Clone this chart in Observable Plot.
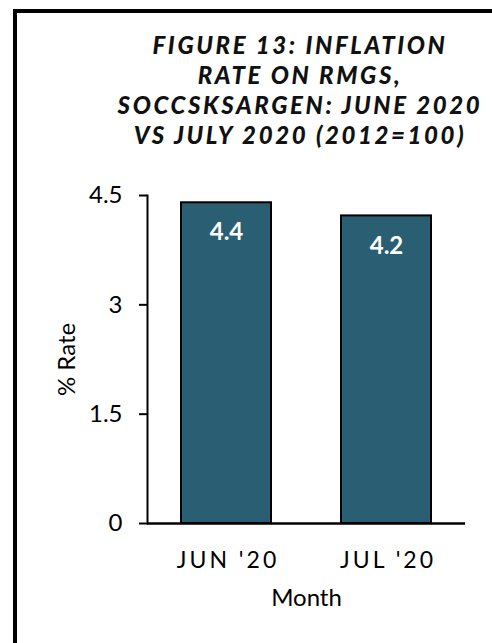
<!DOCTYPE html>
<html><head><meta charset="utf-8">
<script src="https://cdn.jsdelivr.net/npm/d3@7"></script>
<script src="https://cdn.jsdelivr.net/npm/@observablehq/plot@0.6"></script>
<style>
body{margin:0;background:#fff;}
#wrap{position:relative;width:492px;height:643px;overflow:hidden;font-family:Lato,sans-serif;background:#fff;}
#border{position:absolute;left:13px;top:9px;width:600px;height:800px;border-left:4px solid #000;border-top:4px solid #000;z-index:2;pointer-events:none;}
#title{position:absolute;left:100px;width:400px;top:30px;text-align:center;font-weight:900;font-style:italic;font-size:24px;line-height:30px;letter-spacing:2.6px;color:#111;margin:0;}
#chart{position:absolute;left:0;top:150px;}
#chart [aria-label="x-axis tick label"] text{letter-spacing:3px;}
</style></head>
<body>
<div id="wrap">
<div id="border"></div>
<div id="title">FIGURE 13: INFLATION<br>RATE ON RMGS,<br>SOCCSKSARGEN: JUNE 2020<br>VS JULY 2020 (2012=100)</div>
<div id="chart"></div>
</div>
<script>
const months = ["JUN '20", "JUL '20"];
const rates = [4.4, 4.22];
const yTicks = [0, 1.5, 3, 4.5];
const yLabel = "% Rate";
const xLabel = "Month";

const data = months.map((m, i) => ({month: m, rate: rates[i]}));

const chart = Plot.plot({
  width: 492, height: 493,
  marginLeft: 147, marginRight: 27, marginTop: 45, marginBottom: 120,
  style: {fontFamily: "Lato, sans-serif", fontSize: "24px", color: "#000", background: "transparent", overflow: "visible"},
  x: {domain: months, paddingInner: 0.44, paddingOuter: 0.21, label: null},
  y: {domain: [0, 4.5], label: null},
  marks: [
    Plot.barY(data, {x: "month", y: "rate", fill: "#2a5f73", stroke: "#000", strokeWidth: 2}),
    Plot.ruleY([0], {stroke: "#000", strokeWidth: 2.5}),
    Plot.frame({anchor: "left", stroke: "#000", strokeWidth: 2}),
    Plot.axisY(yTicks, {tickSize: 8, tickPadding: 17, strokeWidth: 2, label: null, fontSize: 24, tickFormat: d => String(d)}),
    Plot.axisX({tickSize: 0, tickPadding: 28, label: null, dx: 1.5, fontSize: 23}),
    Plot.text(data, {x: "month", y: "rate", text: d => d.rate.toFixed(1), dy: 30, fill: "#fff", fontWeight: "bold", fontSize: 24}),
    Plot.text([yLabel], {frameAnchor: "left", textAnchor: "middle", lineAnchor: "middle", rotate: -90, dx: -80, fontSize: 24}),
    Plot.text([xLabel], {frameAnchor: "bottom", textAnchor: "middle", lineAnchor: "middle", dy: 75, fontSize: 24})
  ]
});
document.getElementById("chart").appendChild(chart);
</script>
</body></html>
